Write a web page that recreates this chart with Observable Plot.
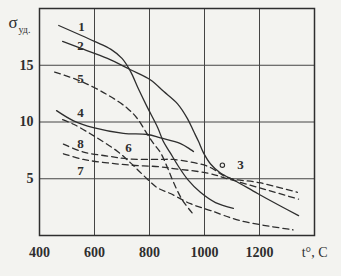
<!DOCTYPE html>
<html>
<head>
<meta charset="utf-8">
<script src="https://cdn.jsdelivr.net/npm/d3@7"></script>
<script src="https://cdn.jsdelivr.net/npm/@observablehq/plot@0.6"></script>
<style>
  html, body { margin: 0; padding: 0; background: #f3f3f0; }
  #chart { width: 341px; height: 276px; }
</style>
</head>
<body>
<div id="chart"></div>
<script>
// Temperature ticks (°C) and specific-strength ticks
const tTicks = [400, 600, 800, 1000, 1200];
const sTicks = [5, 10, 15];
const tGrid = [600, 800, 1000, 1200];

// Solid curves
const curve1 = [[470,18.5],[600,17.1],[660,16.4],[700,15.6],[730,14.5],[760,12.9],[790,11.4],[830,9.5],[850,8.3],[875,7.3],[905,6.1],[940,4.9],[985,3.8],[1040,2.9],[1105,2.4]];
const curve2 = [[484,17.1],[549,16.5],[647,15.6],[731,14.6],[804,13.7],[851,12.7],[902,11.6],[938,10.3],[960,9.2],[978,8.3],[996,7.3],[1022,6.3],[1058,5.5],[1113,4.8],[1193,3.7],[1276,2.6],[1342,1.75]];
const curve4 = [[462,11.0],[524,10.1],[596,9.5],[705,9.0],[793,8.9],[840,8.6],[913,8.1],[960,7.4]];
// Dashed curves
const curve5 = [[455,14.4],[549,13.6],[647,12.4],[720,11.2],[756,10.3],[790,9.0],[815,8.1],[840,7.3],[865,6.0],[887,4.7],[920,3.1],[955,2.0]];
const curve6 = [[484,10.2],[524,9.8],[596,8.8],[684,7.4],[731,6.4],[778,5.3],[829,4.2],[876,3.7],[949,2.8],[1022,2.2],[1131,1.3],[1322,0.5]];
const curve8 = [[487,8.05],[560,7.35],[647,7.0],[720,6.75],[840,6.7],[887,6.7],[1011,6.1],[1084,5.1],[1200,4.65],[1338,3.8]];
const curve7 = [[487,7.2],[560,6.7],[647,6.4],[731,6.2],[840,6.05],[887,5.9],[1011,5.5],[1084,5.0],[1200,4.2],[1342,3.2]];
// Single point 3
const point3 = [[1065, 6.2]];

// Curve labels
const labelText = ["1", "2", "5", "4", "8", "6", "7", "3"];
const labelT = [553, 549, 549, 549, 549, 724, 549, 1131];
const labelS = [18.4, 16.7, 13.8, 10.8, 8.1, 7.7, 5.7, 6.25];
const labels = labelText.map((t, i) => ({text: t, t: labelT[i], s: labelS[i]}));

const ink = "#2e2e2e";
const lineOpts = {x: d => d[0], y: d => d[1], curve: "catmull-rom", stroke: ink, strokeWidth: 1.3};
const dashOpts = {...lineOpts, strokeDasharray: "6,4"};

const chart = Plot.plot({
  width: 341,
  height: 276,
  marginLeft: 39,
  marginRight: 27,
  marginTop: 8,
  marginBottom: 41,
  x: {domain: [400, 1400]},
  y: {domain: [0, 20]},
  style: {background: "transparent", fontFamily: "'Liberation Serif', serif", color: ink},
  marks: [
    Plot.ruleX(tGrid, {stroke: "#444", strokeWidth: 1}),
    Plot.ruleY(sTicks, {stroke: "#444", strokeWidth: 1}),
    Plot.frame({stroke: ink, strokeWidth: 1.5}),
    Plot.axisX(tTicks, {tickSize: 0, tickPadding: 12, fontSize: 14, fontWeight: "bold", tickFormat: d => String(d), label: null}),
    Plot.axisY(sTicks, {tickSize: 0, tickPadding: 6, fontSize: 14, fontWeight: "bold", tickFormat: d => String(d), label: null}),
    Plot.line(curve1, lineOpts),
    Plot.line(curve2, lineOpts),
    Plot.line(curve4, lineOpts),
    Plot.line(curve5, dashOpts),
    Plot.line(curve6, dashOpts),
    Plot.line(curve8, dashOpts),
    Plot.line(curve7, dashOpts),
    Plot.dot(point3, {x: d => d[0], y: d => d[1], r: 2.2, stroke: ink, strokeWidth: 1.1, fill: "none"}),
    Plot.text(labels, {x: "t", y: "s", text: "text", fontSize: 13, fontWeight: "bold", fill: ink}),
    Plot.text(["σ"], {frameAnchor: "top-left", dx: -31, dy: 7, fontSize: 17, textAnchor: "start", lineAnchor: "top", fill: ink}),
    Plot.text(["уд."], {frameAnchor: "top-left", dx: -21, dy: 17, fontSize: 10, textAnchor: "start", lineAnchor: "top", fill: ink}),
    Plot.text(["t°, C"], {frameAnchor: "bottom-right", dx: 13, dy: 12, fontSize: 14, textAnchor: "end", lineAnchor: "top", fill: ink})
  ]
});
document.getElementById("chart").append(chart);
</script>
</body>
</html>
